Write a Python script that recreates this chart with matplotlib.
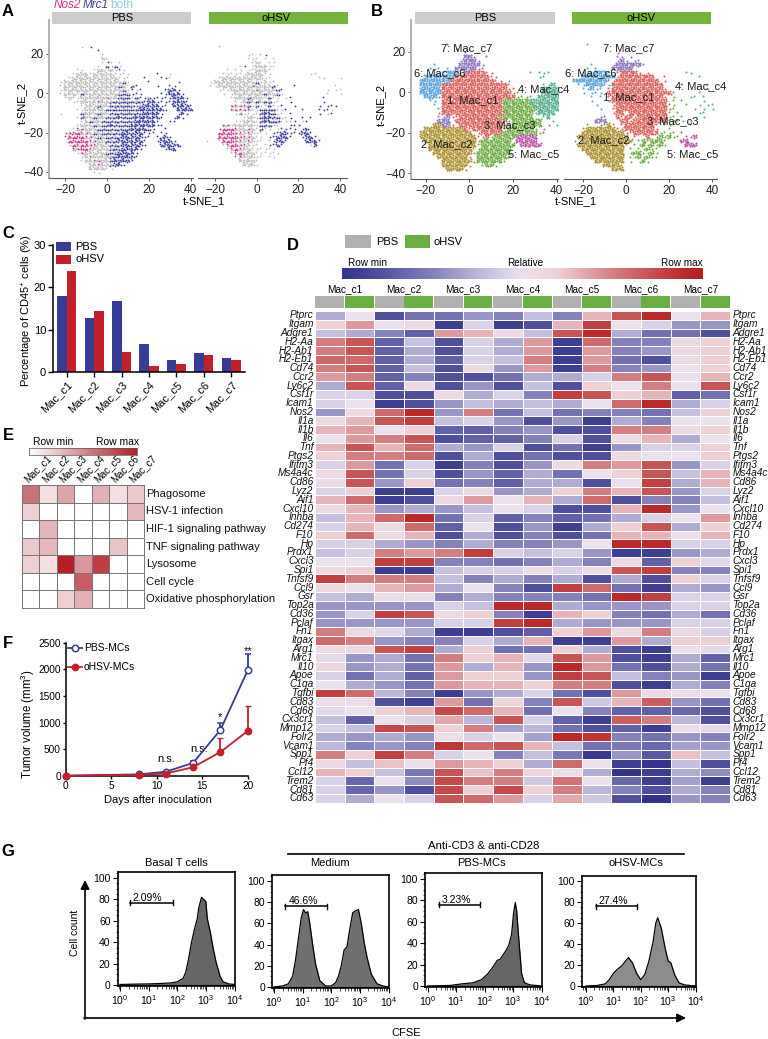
import numpy as np
import matplotlib
matplotlib.use("Agg")
import matplotlib.pyplot as plt
from matplotlib.colors import LinearSegmentedColormap
from matplotlib.patches import Rectangle
from matplotlib.ticker import MultipleLocator, NullFormatter, LogLocator, FixedLocator

plt.rcParams['font.family'] = ['Liberation Sans', 'DejaVu Sans']
plt.rcParams['mathtext.fontset'] = 'custom'
plt.rcParams['mathtext.rm'] = 'Liberation Sans'
plt.rcParams['mathtext.it'] = 'Liberation Sans:italic'

W, H = 768, 1039
BLUE, RED = '#383c96', '#c4202b'

# ---------- t-SNE occupancy maps (one character per 2x2 t-SNE units)
# rows run y = 24, 22, ... ; columns run x = -24, -22, ...
# upper case / digit = dense, lower case = sparse; x = grey+blue mix, y = grey+magenta mix
MAP_A_PBS = [
"......g.b........................",
"..........b......................",
"...........g.....................",
"...........Gg....................",
"...........gbg.g.................",
"..........g.xgxg.................",
".....gg..gGGgGgbg................",
"....gGGGgGGGGGgggg......b..g.....",
"...gGGGGGGGGGGGggg...b...bbg.....",
".gGGGGGGGGGGGGGGxg....b......b...",
".gGGGGGGGGGGGGGxGgxb....b..bb....",
".gGGGGGGGGGGGGGGxgbgb.....bBBb...",
".gGGGgxGGGGGGGGxxxbbb....bbBBBb..",
"..gGggGGGGGGyGGxxxgxbbxbbbbbBBBb.",
"....ggGGGGyGGxxxxxxxxbBBbbbbBBBb.",
"......gGGGxGGxxxxxxbxBBBBbb.BBBBb",
".....ggGGGGGxxxxxxxxBBBBBBb..BBBB",
".g....xGGGxGGxxxxxxxxBBBBb...bBb.",
".....gxGGxGGxxxBxxxBBBBBBb..bBb..",
"......gGxGGxxxxxxxxBBBBBb..bb....",
".....gGGGxGxxBxxxxBBBBBBbb.......",
"....gyyGGGxxxxxxxxBBBBxb..b......",
"..myMMyyGxGxxxxxBBxBBbbb.bb......",
"..mMMMMyyGxGxxxxBBBBBbb.bxBb.....",
"...MMMMMyyGGxxxBBBBBBb..bBBBb....",
"...gMyMMyyGGGxxxBBBBBb...BBBBB...",
"....yyMMyGGGGxxxBBBBb.....bBB....",
".....gyGGGGGxxxBBBBb.............",
"......gGyGGGGxxBBBBb.............",
"......gGGyyGGxBBBBb..............",
"........GGyGGxBBb................",
"........GGGGgg...................",
".........gg......................",
]
MAP_A_OHSV = [
"...g.............................",
".................................",
"..........gg.gb..................",
"..........ggg.g.g................",
"...........gGg.gg................",
"........gb.gGGGgg................",
".....g.gg.ggGGGg.................",
"....ggggggGGGGgg.........gg......",
"...gGGGGGGGGGGgg...........gg...g",
".gGGGGGGGGGGxgGgg................",
".ggGGGGGGGGyGGGGxg...b.........g.",
"...gggGGGGGGyGGGGxb..........g.gg",
"....g.gGGGGGGGxGGxg..........g..g",
"......gGGGxGGGgxgg.gb.......b....",
".......ggGxGxGxxgg..b.......b....",
"......yyyyxgxggxggb..b.....b.bbb.",
"......yyyyyggxxxxggb...b...bbbg..",
".......gyggggxBBxgg.b......b.gb..",
".........gGGgxBBxxggb..b.b.......",
".......ggGGGgxBBxxgggb.gb........",
"....yygGGGGGgxxxgg..bbb..........",
"...mMMMyGGyGgxgg.gbbbb.bB........",
"...MMMMyyGyGggg.bbBBbbbBBb.......",
"...MMMMMyyyGgg.bbBBBb..bBBb......",
"g..gMMMyyGyGgg.gbBBb....BBBb.....",
"....gyMMyyGgg.gbbBb......gB......",
".....gyMyGGgggggg................",
"......gyMGGGgggggg...............",
".......myGGGgg.gg................",
"........GGGGg....................",
".........GGGg....................",
]
MAP_B_PBS = [
".......g.........................",
".........g.......................",
"...........g.....................",
"...........77g..g................",
"..........g777g..................",
"....f.....77777g.................",
"...fff.f.77777gg.................",
".....ff666.71111aa........c.ddd..",
"..666666611111111aa.........dd...",
".66666661111111111aa.d...........",
".66666111111111111111a.......dd4.",
".66666111111111111111aa......4444",
".666661111111111111111cc.....4444",
"..666f11111111111111111cccc.44444",
"...ff.111111111111113333334444444",
"....f.111111111111113333333444444",
".....f111111111111113333333344444",
".....a111111111111111333333d4444.",
".....gg7aa11111111133333333..d4..",
".....777.111111111111c3333333..d.",
"....2277a.1111111111aa3333333.b.d",
"..2222222221a1111111c333333c.d...",
".222222222222.a1111133333333ce...",
".2222222222222aa1c3333355555.....",
"..222222222222b3333333.55555.....",
"...22222222222b33333333.55555....",
"...2222222222bc3333333...........",
"....222222222b33333333...........",
".....2222222b.3333333c...........",
"......2222222b333333c............",
"......222222b..c33c..............",
".......2222b.....................",
]
MAP_B_OHSV = [
"...f.............................",
".................................",
"..........g......................",
"..........gg.g...................",
"..........g7g.gg.................",
"....f....g777777g................",
"...f.f...77777...................",
"..fff666f.g1111a.a........dd.....",
"..66666666a11111111..a.......d...",
"66666666aa1111111111.a...........",
".ff6666ff111111111111....d.....d.",
"..ff6ff.a111111111111a.........d.",
"..f.fff.111111111111111c.....d...",
"....f.f.a111111111111a.c...dd.d..",
"....f...a1111111111111.c.c....d..",
".....f...a111111111111cc..c..d.dd",
"......f..a111111111111ac....c.d.d",
".........a11.111111111c.c....dd..",
"......gg..1a11a1111111cc.c....d..",
".....777...11a11111111cccc.c.....",
"...b..gb2b.a1111111a.ccc...e.....",
"..b2222222aa1111111a..c..........",
"..2222222222aa111111cccc.e.......",
".222222222222.a..1.c3c3cc.ee5....",
"b.222222222222.c3c333c...55......",
".22222222222b.cc3c3c3c....555....",
"..2222222222.c.cc3cc.............",
"...222222222.c33cc3c.............",
"....22222222.cc3c3cc.............",
".....2222222.c.c3c...............",
".......2222b.....................",
".........222.....................",
]
CLUSTER_COL = {'1': '#d9615b', '2': '#ad9130', '3': '#6eae44', '4': '#55b18e',
               '5': '#bb55a6', '6': '#5aa5de', '7': '#8f72bd'}
SPARSE_KEY = dict(zip('abcdefg', '1234567'))
EXPR_COL = {'G': '#bdbdbd', 'B': '#3a3e9e', 'M': '#d6338f'}

TSNE_LABELS_L = [('7: Mac_c7', 467, 48), ('6: Mac_c6', 440, 73), ('1: Mac_c1', 473, 100), ('4: Mac_c4', 544, 89),
                 ('3: Mac_c3', 510, 125), ('2: Mac_c2', 447, 144), ('5: Mac_c5', 534, 154)]
TSNE_LABELS_R = [('7: Mac_c7', 629, 48), ('6: Mac_c6', 591, 73), ('1: Mac_c1', 629, 97), ('4: Mac_c4', 701, 86),
                 ('3: Mac_c3', 673, 121), ('2: Mac_c2', 604, 140), ('5: Mac_c5', 693, 154)]

# ---------- Panel C
clusters = ['Mac_c1', 'Mac_c2', 'Mac_c3', 'Mac_c4', 'Mac_c5', 'Mac_c6', 'Mac_c7']
pct_pbs = [17.9, 12.7, 16.8, 6.6, 2.8, 4.5, 3.3]
pct_ohsv = [23.9, 14.3, 4.7, 1.5, 2.0, 3.9, 2.9]

# ---------- Panel D
genes = ['Ptprc', 'Itgam', 'Adgre1', 'H2-Aa', 'H2-Ab1', 'H2-Eb1', 'Cd74', 'Ccr2', 'Ly6c2', 'Csf1r', 'Icam1', 'Nos2',
         'Il1a', 'Il1b', 'Il6', 'Tnf', 'Ptgs2', 'Ifitm3', 'Ms4a4c', 'Cd86', 'Lyz2', 'Aif1', 'Cxcl10', 'Inhba', 'Cd274',
         'F10', 'Hp', 'Prdx1', 'Cxcl3', 'Spi1', 'Tnfsf9', 'Ccl9', 'Gsr', 'Top2a', 'Cd36', 'Pclaf', 'Fn1', 'Itgax', 'Arg1',
         'Mrc1', 'Il10', 'Apoe', 'C1qa', 'Tgfbi', 'Cd83', 'Cd68', 'Cx3cr1', 'Mmp12', 'Folr2', 'Vcam1', 'Spp1', 'Pf4',
         'Ccl12', 'Trem2', 'Cd81', 'Cd63']
expr = [
[-3,0,-8,-6,-6,-4,-5,-2,-5,3,7,9,0,3],
[2,4,0,1,-9,-1,-9,-8,3,8,0,-1,-4,-4],
[-2,-3,-5,-7,4,3,1,-2,7,9,-3,-6,-6,-8],
[5,7,-7,-2,-8,-1,-3,4,-9,6,-5,-5,1,2],
[5,7,-7,-3,-8,-1,-3,4,-9,4,-5,-4,1,2],
[6,6,-7,-3,-7,-1,-2,5,-9,4,-6,-8,1,2],
[5,7,-7,-2,-8,1,-4,4,-9,5,-5,-4,0,2],
[4,5,-7,-5,-8,-8,-6,-3,-3,-1,5,7,0,3],
[-3,7,-7,1,-8,-4,-8,-2,-8,2,0,5,0,7],
[-1,-1,-8,-8,1,-3,-1,-5,8,7,2,3,-7,-6],
[-1,0,-9,-8,-4,-2,-3,-2,-3,0,6,9,-3,-1],
[-4,1,6,9,-4,5,-6,-2,-6,-5,-5,-6,-2,2],
[1,3,7,8,-2,-1,-4,-8,-4,-9,-3,-5,0,0],
[3,4,0,2,-7,-7,-5,-4,-8,-8,5,5,1,2],
[0,4,5,7,-8,-7,-7,-5,-1,-8,1,3,-3,0],
[3,7,3,6,-3,-4,-1,-8,-6,-9,-4,-1,-1,2],
[2,5,5,6,-8,-3,-8,-6,-8,-8,1,0,0,2],
[-1,4,-6,-1,-9,-5,-8,-4,1,5,4,7,-4,-1],
[1,7,-6,-1,-8,-4,-7,-3,-6,0,2,7,-2,3],
[1,7,-4,2,-6,-5,-7,-3,-3,-8,0,8,-3,3],
[-1,2,-9,-9,-1,1,-4,-3,2,5,3,7,-4,-1],
[3,6,-9,-8,1,4,0,3,-3,6,-8,-5,-5,-2],
[1,3,-4,-3,-4,-2,0,-1,-8,-8,3,9,-4,0],
[-2,3,6,9,-6,-1,-7,-5,-7,-6,-3,-1,0,4],
[-1,3,1,6,-7,0,-8,-4,-9,-3,2,7,-3,2],
[2,6,1,3,-8,-3,-8,-5,-8,-6,3,3,0,3],
[-1,-1,-3,-4,-5,-3,-5,-5,-4,0,9,9,-1,-1],
[-2,-1,5,4,5,8,-1,-2,-1,-4,-9,-9,-4,-3],
[0,0,8,8,-5,-5,-6,-5,-3,-5,1,-7,2,-.5],
[1,2,-9,-9,-2,-1,-1,.5,-1,.5,7,8,-5,-5],
[8,5,5,5,-2,-5,-3,-5,-3,-8,-3,-8,2,-1],
[1,0,3,4,-3,0,-5,-8,8,6,-6,-9,-3,-4],
[-2,-3,.5,.5,-5,-3,-5,-5,-5,-6,9,8,-1,-1],
[-4,-4,-4,-4,-1,-2,9,9,-3,-4,-4,-4,-1,-1],
[-4,-1,8,7,1,2,-5,-9,3,2,-5,-6,-3,-6],
[-4,-4,-4,-4,-1,-1,8,9,-3,-4,-4,-4,-1,-1],
[5,1,-.5,-3,-9,-9,-8,-7,2,4,1,5,1,-1],
[6,5,-4,-5,-5,-1,-3,3,-9,-9,4,-3,2,2],
[1,1,7,8,-3,2,-6,-6,2,-3,-8,-9,.5,-.5],
[-.5,-4,-3,-6,5,2,3,-.5,7,4,-8,-9,-3,-7],
[1.5,-4,-3,-6,4,-3,3,-4,9,4,-6,-8,-3,-6],
[-1,-6,-3,-7,4,2,2,-4,8,7,-2,-5,-4,-9],
[0,-3,-4,-6,4,3,3,2,5,5,-8,-9,-3,-5],
[8,6,-2.5,-5,-9,-4,-3,-1,-6,-8,4,1,.5,0],
[.5,.5,-8,-9,4,-6,1.5,-5,7,-1.5,3,6.5,-4,-6],
[-.5,0,2,3,7.5,6,3,-6,0,-5,-7,-7,-6.5,-8],
[-2,-7,0,-1,3.5,-2.5,7,-1,-7,-9,6.5,5,-2.5,-8],
[-1,-2,7.5,7,2,5,-3.5,-2.5,-6,-8,-7,-9,.5,-.5],
[-3,-4,-3,-4,.5,-1,0,-3.5,9,8.5,-5,-6,-4,-5],
[-2.5,-5,-4,-5,8.5,6,7,3,-2,-6,-5.5,-6.5,-3.5,-4],
[5,2,8,5,-1,0,-5,-2,-5.5,-9.5,-4,-7.5,2.5,-2],
[1,-2,2.5,.5,4,3,2,-3,6,0,-9,-10,-2,-8],
[3,2,-2,-5.5,7,2.5,5,1.5,.5,-3,-10,-9,-3,-4.5],
[-1,-6.5,0,-4.5,7.5,5,5,-1.5,5.5,0,-6.5,-9,-3.5,-9],
[-1,-6.5,-4,-8,7.5,2,7.5,2,5,-2.5,-5,-8,-3,-5],
[-1,-3,0,-1,7,6,4,-1,3.5,-1.5,-8,-10,-4,-5],
]

# ---------- Panel E
pathways = ['Phagosome', 'HSV-1 infection', 'HIF-1 signaling pathway', 'TNF signaling pathway', 'Lysosome',
            'Cell cycle', 'Oxidative phosphorylation']
path_vals = [
[.6,.15,.4,0,.35,.15,.25],
[.22,0,0,0,0,0,.32],
[0,.33,0,0,0,0,0],
[.25,.32,0,0,0,.27,0],
[.22,.15,1,.45,.85,0,0],
[0,0,0,.7,0,0,0],
[0,0,.22,.35,0,0,0],
]

# ---------- Panel F
days = [0, 8, 11, 14, 17, 20]
vol_pbs = [0, 25, 75, 240, 860, 1980]
err_pbs = [0, 10, 20, 30, 130, 310]
vol_ohsv = [0, 15, 40, 160, 445, 840]
err_ohsv = [0, 5, 15, 20, 270, 470]

# ---------- Panel G (x = log10 CFSE, y = % of maximum)
g1_x = [0,.5,1,1.5,1.8,2,2.2,2.3,2.4,2.5,2.6,2.7,2.75,2.85,2.92,3,3.05,3.15,3.25,3.35,3.5,3.6,3.8,4]
g1_y = [.5,.8,1,1.5,2,3,6,12,25,40,52,62,72,82,80,78,62,50,35,22,8,3,1,.5]
g2_x = [0,.3,.5,.65,.75,.85,.95,1.03,1.1,1.18,1.25,1.35,1.45,1.6,1.8,2,2.15,2.25,2.35,2.45,2.55,2.65,2.75,2.85,2.95,3.05,3.15,3.25,3.4,3.6,3.8,4]
g2_y = [0,1,3,10,25,45,65,73,70,71,60,40,22,6,1,1,4,10,20,35,38,55,70,72,73,60,42,28,12,3,1,0]
g3_x = [0,.8,1.2,1.6,1.9,2.1,2.25,2.35,2.45,2.55,2.65,2.75,2.85,2.95,3.02,3.08,3.13,3.2,3.3,3.4,3.6,4]
g3_y = [0,.5,2,3,6,11,16,20,24,25,29,33,38,48,68,78,70,45,12,3,1,0]
g4_x = [0,.4,.7,.85,1,1.15,1.3,1.45,1.55,1.7,1.85,2,2.15,2.3,2.45,2.55,2.62,2.75,2.9,3,3.1,3.25,3.4,3.6,4]
g4_y = [0,.5,2,6,12,16,19,24,27,22,12,6,11,24,42,60,65,55,35,24,22,10,3,1,0]
gates = [('2.09%', .35, 1.85, 77), ('46.6%', .4, 1.85, 76), ('3.23%', .4, 1.85, 76), ('27.4%', .35, 1.85, 76)]
flow_titles = ['Basal T cells', 'Medium', 'PBS-MCs', 'oHSV-MCs']

# ---------- Helpers
fig = plt.figure(figsize=(W / 100, H / 100), dpi=100)

def axpx(l, t, r, b, **kw):
    return fig.add_axes([l / W, 1 - b / H, (r - l) / W, (b - t) / H], **kw)

ov = axpx(0, 0, W, H, zorder=50)
ov.set_xlim(0, W); ov.set_ylim(H, 0); ov.axis('off'); ov.patch.set_alpha(0)

def T(x, y, s, size=8, ha='center', va='center', **kw):
    return ov.text(x, y, s, fontsize=size, ha=ha, va=va, **kw)

def R(l, t, r, b, color, **kw):
    ov.add_patch(Rectangle((l, t), r - l, b - t, facecolor=color, edgecolor='none', **kw))

SUB5 = [(-.55, -.55), (.55, -.25), (-.2, .1), (-.7, .6), (.6, .7)]
SUB5B = [(-.3, -.7), (.7, -.6), (.15, -.1), (-.65, .35), (.3, .75)]
SUB1 = [(-.2, .15)]

def spread(cx, cy, r, c, n):
    if n == 1:
        o = SUB1 if (r + c) % 2 else [(.3, -.3)]
    else:
        o = SUB5 if (r + c) % 2 else SUB5B
    return [(cx + a, cy + b) for a, b in o[:n]]

def draw_map(ax, rows, kind):
    pts = {}
    for r, row in enumerate(rows):
        cy = 24 - 2 * r
        for c, ch in enumerate(row):
            cx = -24 + 2 * c
            if ch == '.':
                continue
            if kind == 'expr':
                if ch == 'G':
                    pts.setdefault('G', []).extend(spread(cx, cy, r, c, 4))
                elif ch == 'B':
                    pts.setdefault('B', []).extend(spread(cx, cy, r, c, 4))
                elif ch == 'M':
                    pts.setdefault('G', []).extend(spread(cx, cy, r, c, 2))
                    pts.setdefault('M', []).extend(spread(cx, cy, r + 1, c, 3))
                elif ch in 'gbm':
                    pts.setdefault(ch.upper(), []).extend(spread(cx, cy, r, c, 1))
                elif ch == 'x':
                    pts.setdefault('G', []).extend(spread(cx, cy, r, c, 3))
                    pts.setdefault('B', []).extend(spread(cx, cy, r + 1, c, 2))
                elif ch == 'y':
                    pts.setdefault('G', []).extend(spread(cx, cy, r, c, 3))
                    pts.setdefault('M', []).extend(spread(cx, cy, r + 1, c, 1))
            else:
                if ch in CLUSTER_COL:
                    pts.setdefault(ch, []).extend(spread(cx, cy, r, c, 5))
                else:
                    pts.setdefault(SPARSE_KEY[ch], []).extend(spread(cx, cy, r, c, 1))
    order = ['G', 'B', 'M'] if kind == 'expr' else list('1234567')
    for k in order:
        if k in pts:
            a = np.array(pts[k])
            col = EXPR_COL[k] if kind == 'expr' else CLUSTER_COL[k]
            ax.scatter(a[:, 0], a[:, 1], s=1.7 if kind == 'expr' else 2.2, color=col, linewidths=0, marker='o')

def tsne_axes(l, r, x_m20, x_40, rows, kind, left_spine, y20, ym40, bottom=178, top=20):
    ax = axpx(l, top, r, bottom)
    ax.patch.set_alpha(0)
    sx = (x_40 - x_m20) / 60
    sy = (ym40 - y20) / 60
    ax.set_xlim(-20 + (l - x_m20) / sx, -20 + (r - x_m20) / sx)
    ax.set_ylim(-40 - (bottom - ym40) / sy, 20 + (y20 - top) / sy)
    draw_map(ax, rows, kind)
    for s in ['top', 'right']:
        ax.spines[s].set_visible(False)
    ax.spines['bottom'].set_color('#555555')
    ax.set_xticks([-20, 0, 20, 40])
    ax.set_yticks([-40, -20, 0, 20])
    ax.tick_params(labelsize=8.5, length=2.5, width=.7, pad=1.5, color='#555555', labelcolor='#222222')
    if left_spine:
        ax.spines['left'].set_color('#aaaaaa')
        ax.spines['left'].set_linewidth(1.3)
    else:
        ax.spines['left'].set_visible(False)
        ax.tick_params(axis='y', left=False, labelleft=False)
    return ax

# ---------- Panel letters
for s, x, y in [('A', 8, 12), ('B', 377, 12), ('C', 8, 234), ('D', 293, 245), ('E', 8, 436), ('F', 8, 643), ('G', 8, 852)]:
    T(x, y, s, size=12, fontweight='bold')

# ---------- Panel A
tsne_axes(48.7, 193, 65, 190.7, MAP_A_PBS, 'expr', True, 54, 172)
tsne_axes(198, 347, 215, 340, MAP_A_OHSV, 'expr', False, 54, 172)
R(52, 12, 191, 24, '#cdcdcd'); R(209, 12, 348, 24, '#75b33c')
T(122, 18, 'PBS', size=8); T(276, 18, 'oHSV', size=8)
T(54, 5, 'Nos2', size=8.5, ha='left', style='italic', color='#d4308f')
T(83, 5, 'Mrc1', size=8.5, ha='left', style='italic', color='#3a3e9e')
T(110, 5, 'both', size=8.5, ha='left', color='#8fcbe0')
T(22, 103, 't-SNE_2', size=8, rotation=90)
T(204, 201, 't-SNE_1', size=8)

# ---------- Panel B
tsne_axes(410.7, 558, 425.7, 556.7, MAP_B_PBS, 'cl', True, 52, 173, bottom=179)
tsne_axes(564, 717, 583, 712, MAP_B_OHSV, 'cl', False, 52, 173, bottom=179)
R(415, 12, 555, 24, '#cdcdcd'); R(572, 12, 711, 24, '#75b33c')
T(485, 18, 'PBS', size=8); T(641, 18, 'oHSV', size=8)
T(381, 105, 't-SNE_2', size=8, rotation=90)
T(576, 201, 't-SNE_1', size=8)
for s, x, y in TSNE_LABELS_L + TSNE_LABELS_R:
    T(x, y, s, size=8, color='#1a1a1a')

# ---------- Panel C
axc = axpx(53, 245, 245, 372)
x = np.arange(len(clusters))
axc.bar(x - .175, pct_pbs, .35, color=BLUE)
axc.bar(x + .175, pct_ohsv, .35, color=RED)
axc.set_xlim(-.5, 6.5); axc.set_ylim(0, 30)
axc.set_xticks(x); axc.set_xticklabels(clusters, rotation=45, ha='right', rotation_mode='anchor', fontsize=8.5)
axc.set_yticks([0, 10, 20, 30])
axc.tick_params(labelsize=8, length=3.5, width=1, pad=1.5)
for s in ['top', 'right']:
    axc.spines[s].set_visible(False)
for s in ['left', 'bottom']:
    axc.spines[s].set_linewidth(1.1)
T(27, 311, 'Percentage of CD45$^{+}$ cells (%)', size=8, rotation=90)
R(56, 242, 71, 251, BLUE); R(56, 255, 71, 264, RED)
T(75, 246.5, 'PBS', size=8, ha='left'); T(75, 259.5, 'oHSV', size=8, ha='left')

# ---------- Panel D
cmap_d = LinearSegmentedColormap.from_list('d', [
    (0.0, '#34348e'), (.05, '#3f3f95'), (.25, '#8481bb'), (.40, '#c5c0e0'), (.5, '#ece2ee'),
    (.60, '#efd0d5'), (.75, '#d57f82'), (.95, '#bd2a2b'), (1.0, '#b71f22')])
axd = axpx(315, 311, 730, 802.7)
axd.pcolormesh(np.array(expr), cmap=cmap_d, vmin=-10, vmax=10, edgecolors='white', linewidth=.5)
axd.set_ylim(len(genes), 0); axd.axis('off')
dh = (802.7 - 311) / len(genes)
for i, g in enumerate(genes):
    y = 311 + (i + .5) * dh
    T(313.5, y, g, size=7.3, ha='right', style='italic', color='#111111')
    T(732.5, y, g, size=7.3, ha='left', style='italic', color='#111111')
cw = (730 - 315) / 14
for j in range(14):
    R(315 + j * cw + .4, 296, 315 + (j + 1) * cw - .4, 308, '#b0b0b0' if j % 2 == 0 else '#6bae41')
for j, c in enumerate(clusters):
    T(315 + (2 * j + 1) * cw, 289, c, size=7.2)
R(345, 235, 371, 248, '#b0b0b4'); R(405, 235, 430, 248, '#6bae41')
T(376, 242, 'PBS', size=8, ha='left'); T(434, 242, 'oHSV', size=8, ha='left')
T(367, 263, 'Row min', size=7.2); T(525, 263, 'Relative', size=7.2); T(682, 263, 'Row max', size=7.2)
cbd = axpx(342, 268, 703, 279)
cbd.imshow(np.array([np.arange(0, 256)]), cmap=cmap_d, aspect='auto', vmin=0, vmax=255)
cbd.axis('off')

# ---------- Panel E
cmap_e = LinearSegmentedColormap.from_list('e', [(0, '#ffffff'), (.25, '#ecc8cd'), (.6, '#cd7178'), (1, '#b81f24')])
axe = axpx(21.7, 485, 144, 608)
axe.pcolormesh(np.array(path_vals), cmap=cmap_e, vmin=0, vmax=1, edgecolors='#777777', linewidth=.45)
axe.set_ylim(7, 0); axe.set_xlim(0, 7)
axe.set_xticks([]); axe.set_yticks([])
for s in axe.spines.values():
    s.set_color('#777777'); s.set_linewidth(.7)
eh = (608 - 485) / 7; ew = (144 - 21.7) / 7
for i, p in enumerate(pathways):
    T(146.5, 485 + (i + .5) * eh, p, size=8, ha='left', color='#111111')
for j, c in enumerate(clusters):
    T(21.7 + (j + .5) * ew - 1, 484, c, size=7, ha='left', va='bottom', rotation=45, rotation_mode='anchor')
cbe = axpx(29, 448, 137, 455)
cbe.imshow(np.array([np.arange(0, 256)]), cmap=cmap_e, aspect='auto', vmin=0, vmax=255)
cbe.set_xticks([]); cbe.set_yticks([])
for s in cbe.spines.values():
    s.set_linewidth(.5); s.set_color('#555555')
T(53, 442, 'Row min', size=7.5); T(118, 442, 'Row max', size=7.5)

# ---------- Panel F
axf = axpx(65.7, 642.7, 252, 775.7)
axf.patch.set_alpha(0)
axf.set_xlim(0, (252 - 65.7) / ((247.7 - 65.7) / 20)); axf.set_ylim(0, 2500)
axf.errorbar(days, vol_pbs, yerr=[np.zeros(len(err_pbs)), err_pbs], color=BLUE, lw=1.3, marker='o', ms=4.6, mfc='white',
             mec=BLUE, mew=1.1, capsize=2.2, capthick=1, clip_on=False, zorder=4)
axf.errorbar(days, vol_ohsv, yerr=[np.zeros(len(err_ohsv)), err_ohsv], color=RED, lw=1.3, marker='o', ms=4.6, mfc=RED,
             mec=RED, capsize=2.2, capthick=1, clip_on=False, zorder=5)
axf.set_xticks([0, 5, 10, 15, 20]); axf.set_yticks([0, 500, 1000, 1500, 2000, 2500])
axf.tick_params(labelsize=7.3, length=2.5, width=1, pad=1)
for s in ['top', 'right']:
    axf.spines[s].set_visible(False)
for s in ['left', 'bottom']:
    axf.spines[s].set_linewidth(1.1)
axf.spines['bottom'].set_bounds(0, 20)
axf.text(11, 314, 'n.s.', fontsize=8, ha='center', va='center')
axf.text(14.7, 500, 'n.s.', fontsize=8, ha='center', va='center')
axf.text(17, 1100, '*', fontsize=8, ha='center', va='center')
axf.text(20, 2350, '**', fontsize=8, ha='center', va='center')
T(28, 724, 'Tumor volume (mm$^{3}$)', size=8.3, rotation=90)
T(158, 800, 'Days after inoculation', size=8)
ov.plot([68, 82], [648, 648], color=BLUE, lw=1.3)
ov.plot([75], [648], 'o', ms=4.6, mfc='white', mec=BLUE, mew=1.1)
ov.plot([68, 82], [667, 667], color=RED, lw=1.3)
ov.plot([75], [667], 'o', ms=4.6, mfc=RED, mec=RED)
T(84, 648, 'PBS-MCs', size=7.5, ha='left'); T(84, 667, 'oHSV-MCs', size=7.5, ha='left')

# ---------- Panel G
flow = [(g1_x, g1_y, 117.5, 235, 872, 986, '#666666', 878, 985, 120),
        (g2_x, g2_y, 272, 389, 875, 988, '#707070', 881, 987, 274),
        (g3_x, g3_y, 425, 542, 873, 987, '#666666', 879, 986, 427.5),
        (g4_x, g4_y, 582, 696, 876, 987, '#8c8c8c', 881, 986, 586)]
for k, (lx, ly, l, r, t, b, col, y100, y0, x0) in enumerate(flow):
    ax = axpx(l, t, r, b)
    dec = (r - x0 - 0.5) / 4
    ax.set_xscale('log')
    ax.set_xlim(10 ** ((l - x0) / dec), 10 ** ((r - x0) / dec))
    sy = (y0 - y100) / 100
    ax.set_ylim(-(b - y0) / sy, 100 + (y100 - t) / sy)
    xv = 10.0 ** np.array(lx)
    ax.fill_between(xv, ly, 0, color=col, lw=0)
    ax.plot(xv, ly, color='black', lw=.9)
    ax.axhline(0, color='black', lw=.8)
    ax.xaxis.set_major_locator(FixedLocator([1, 10, 100, 1000, 10000]))
    ax.xaxis.set_minor_locator(LogLocator(base=10, subs=np.arange(2, 10), numticks=10))
    ax.xaxis.set_minor_formatter(NullFormatter())
    ax.set_xticklabels(['10$^{0}$', '10$^{1}$', '10$^{2}$', '10$^{3}$', '10$^{4}$'])
    ax.set_yticks([0, 20, 40, 60, 80, 100])
    ax.yaxis.set_minor_locator(MultipleLocator(5))
    ax.tick_params(which='major', labelsize=7.5, length=3.5, width=.8, pad=1.5)
    ax.tick_params(which='minor', length=1.8, width=.5)
    for s in ax.spines.values():
        s.set_linewidth(1.2)
    name, g0, g1, gy = gates[k]
    ax.plot([10 ** g0, 10 ** g1], [gy, gy], color='black', lw=1.1)
    ax.plot([10 ** g0, 10 ** g0], [gy - 2.5, gy + 2.5], color='black', lw=1)
    ax.plot([10 ** g1, 10 ** g1], [gy - 2.5, gy + 2.5], color='black', lw=1)
    ax.text(10 ** (g0 + .1), gy, name, fontsize=7.5, ha='left', va='bottom')
for s, xc in zip(flow_titles, [176, 330, 481, 636]):
    T(xc, 863, s, size=8)
T(484, 846, 'Anti-CD3 & anti-CD28', size=8.2)
ov.plot([288, 684], [854, 854], color='black', lw=1.2)
ov.annotate('', xy=(85, 880), xytext=(85, 1019), arrowprops=dict(arrowstyle='-|>', color='black', lw=1.2, mutation_scale=13, shrinkA=0, shrinkB=0))
ov.annotate('', xy=(686, 1018), xytext=(84, 1018), arrowprops=dict(arrowstyle='-|>', color='black', lw=1.2, mutation_scale=13, shrinkA=0, shrinkB=0))
T(75, 933, 'Cell count', size=7.5, rotation=90)
T(406, 1033, 'CFSE', size=8)

fig.savefig('out.png', dpi=100)
